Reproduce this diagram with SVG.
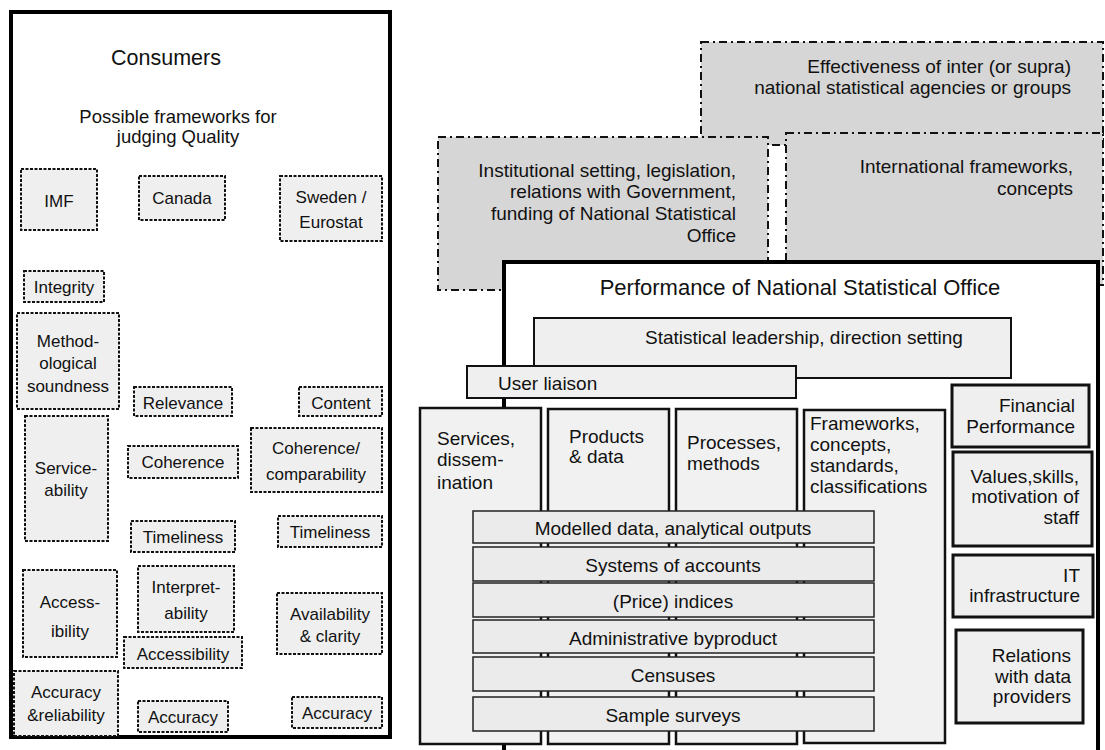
<svg xmlns="http://www.w3.org/2000/svg" width="1105" height="750" viewBox="0 0 1105 750">
<style>
text{font-family:"Liberation Sans",Arial,sans-serif;fill:#111}
.q{fill:#efefef;stroke:#111;stroke-width:2;stroke-dasharray:3 1.5}
.qt{font-size:17px;text-anchor:middle}
.env{fill:#d6d6d6;stroke:#111;stroke-width:2;stroke-dasharray:8 4 2 4}
.et{font-size:19px;text-anchor:end}
.col{fill:#f1f1f1;stroke:#111;stroke-width:2.5}
.bar{fill:#ebebeb;stroke:#222;stroke-width:1.5}
.rb{fill:#efefef;stroke:#111;stroke-width:3}
.t19{font-size:19px}
.mid{text-anchor:middle}
.end{text-anchor:end}
</style>
<rect width="1105" height="750" fill="#fff"/>

<g id="consumers">
<rect x="11" y="12" width="379" height="725" fill="#fff" stroke="#000" stroke-width="4"/>
<text x="166" y="65" font-size="21.5" text-anchor="middle">Consumers</text>
<text x="178" y="123" font-size="18.5" text-anchor="middle">Possible frameworks for</text>
<text x="178" y="143" font-size="18.5" text-anchor="middle">judging Quality</text>
</g>

<g id="imf"><rect class="q" x="21" y="169" width="76" height="61"/><text class="qt" x="59" y="207">IMF</text></g>
<g id="canada"><rect class="q" x="139" y="176" width="86" height="44"/><text class="qt" x="182" y="204">Canada</text></g>
<g id="sweden"><rect class="q" x="280" y="176" width="102" height="65"/><text class="qt" x="331" y="203">Sweden /</text><text class="qt" x="331" y="228">Eurostat</text></g>
<g id="integrity"><rect class="q" x="24" y="271" width="80" height="31"/><text class="qt" x="64" y="293">Integrity</text></g>
<g id="methodological"><rect class="q" x="17" y="313" width="102" height="96"/><text class="qt" x="68" y="347">Method-</text><text class="qt" x="68" y="369">ological</text><text class="qt" x="68" y="392">soundness</text></g>
<g id="relevance"><rect class="q" x="134" y="387" width="98" height="29"/><text class="qt" x="183" y="409">Relevance</text></g>
<g id="content"><rect class="q" x="299" y="387" width="83" height="29"/><text class="qt" x="341" y="409">Content</text></g>
<g id="serviceability"><rect class="q" x="25" y="416" width="83" height="125"/><text class="qt" x="66" y="474">Service-</text><text class="qt" x="66" y="496">ability</text></g>
<g id="coherence"><rect class="q" x="128" y="446" width="110" height="32"/><text class="qt" x="183" y="468">Coherence</text></g>
<g id="coherence-comparability"><rect class="q" x="251" y="428" width="131" height="64"/><text class="qt" x="316" y="454">Coherence/</text><text class="qt" x="316" y="480">comparability</text></g>
<g id="timeliness-1"><rect class="q" x="131" y="521" width="104" height="31"/><text class="qt" x="183" y="543">Timeliness</text></g>
<g id="timeliness-2"><rect class="q" x="278" y="516" width="104" height="31"/><text class="qt" x="330" y="538">Timeliness</text></g>
<g id="accessibility-1"><rect class="q" x="23" y="570" width="94" height="87"/><text class="qt" x="70" y="608">Access-</text><text class="qt" x="70" y="637">ibility</text></g>
<g id="interpretability"><rect class="q" x="138" y="566" width="96" height="66"/><text class="qt" x="186" y="593">Interpret-</text><text class="qt" x="186" y="619">ability</text></g>
<g id="accessibility-2"><rect class="q" x="124" y="637" width="118" height="31"/><text class="qt" x="183" y="660">Accessibility</text></g>
<g id="availability"><rect class="q" x="277" y="593" width="105" height="61"/><text class="qt" x="330" y="620">Availability</text><text class="qt" x="330" y="642">&amp; clarity</text></g>
<g id="accuracy-reliability"><rect class="q" x="14" y="671" width="104" height="65"/><text class="qt" x="66" y="698">Accuracy</text><text class="qt" x="66" y="721">&amp;reliability</text></g>
<g id="accuracy-1"><rect class="q" x="138" y="701" width="90" height="31"/><text class="qt" x="183" y="723">Accuracy</text></g>
<g id="accuracy-2"><rect class="q" x="292" y="697" width="90" height="31"/><text class="qt" x="337" y="719">Accuracy</text></g>

<g id="effectiveness"><rect class="env" x="701" y="42" width="402" height="103"/><text class="et" x="1071" y="73">Effectiveness of inter (or supra)</text><text class="et" x="1071" y="94">national statistical agencies or groups</text></g>
<g id="institutional"><rect class="env" x="438" y="137" width="330" height="153"/><text class="et" x="736" y="177">Institutional setting, legislation,</text><text class="et" x="736" y="198">relations with Government,</text><text class="et" x="736" y="220">funding of National Statistical</text><text class="et" x="736" y="242">Office</text></g>
<g id="international"><rect class="env" x="786" y="133" width="317" height="152"/><text class="et" x="1073" y="173">International frameworks,</text><text class="et" x="1073" y="195">concepts</text></g>

<g id="performance">
<rect x="504" y="262" width="594" height="500" fill="#fff" stroke="#000" stroke-width="4"/>
<text x="800" y="295" font-size="22" text-anchor="middle">Performance of National Statistical Office</text>
</g>
<g id="leadership"><rect x="534" y="318" width="477" height="60" fill="#efefef" stroke="#111" stroke-width="2"/><text class="t19 mid" x="804" y="344">Statistical leadership, direction setting</text></g>
<g id="user-liaison"><rect x="467" y="366" width="329" height="32" fill="#efefef" stroke="#111" stroke-width="2"/><text class="t19" x="498" y="390">User liaison</text></g>

<g id="services"><rect class="col" x="420" y="408" width="121" height="336"/><text class="t19" x="437" y="445">Services,</text><text class="t19" x="437" y="466">dissem-</text><text class="t19" x="437" y="489">ination</text></g>
<g id="products"><rect class="col" x="548" y="409" width="121" height="335"/><text class="t19" x="569" y="443">Products</text><text class="t19" x="569" y="463">&amp; data</text></g>
<g id="processes"><rect class="col" x="676" y="409" width="121" height="335"/><text class="t19" x="687" y="449">Processes,</text><text class="t19" x="687" y="470">methods</text></g>
<g id="frameworks"><rect class="col" x="804" y="410" width="141" height="333"/><text class="t19" x="810" y="430">Frameworks,</text><text class="t19" x="810" y="451">concepts,</text><text class="t19" x="810" y="472">standards,</text><text class="t19" x="810" y="493">classifications</text></g>

<g id="modelled"><rect class="bar" x="473" y="511" width="401" height="32"/><text class="t19 mid" x="673" y="535">Modelled data, analytical outputs</text></g>
<g id="accounts"><rect class="bar" x="473" y="547" width="401" height="34"/><text class="t19 mid" x="673" y="572">Systems of accounts</text></g>
<g id="indices"><rect class="bar" x="473" y="583" width="401" height="34"/><text class="t19 mid" x="673" y="608">(Price) indices</text></g>
<g id="administrative"><rect class="bar" x="473" y="620" width="401" height="33"/><text class="t19 mid" x="673" y="645">Administrative byproduct</text></g>
<g id="censuses"><rect class="bar" x="473" y="657" width="401" height="34"/><text class="t19 mid" x="673" y="682">Censuses</text></g>
<g id="sample-surveys"><rect class="bar" x="473" y="697" width="401" height="34"/><text class="t19 mid" x="673" y="722">Sample surveys</text></g>

<g id="financial"><rect class="rb" x="952" y="385" width="137" height="62"/><text class="t19 end" x="1075" y="412">Financial</text><text class="t19 end" x="1075" y="433">Performance</text></g>
<g id="values"><rect class="rb" x="953" y="452" width="139" height="94"/><text class="t19 end" x="1079" y="483">Values,skills,</text><text class="t19 end" x="1079" y="503">motivation of</text><text class="t19 end" x="1079" y="524">staff</text></g>
<g id="it"><rect class="rb" x="953" y="555" width="140" height="62"/><text class="t19 end" x="1080" y="582">IT</text><text class="t19 end" x="1080" y="602">infrastructure</text></g>
<g id="relations"><rect class="rb" x="956" y="630" width="127" height="93"/><text class="t19 end" x="1071" y="662">Relations</text><text class="t19 end" x="1071" y="683">with data</text><text class="t19 end" x="1071" y="703">providers</text></g>

<g id="connectors"></g>
</svg>
